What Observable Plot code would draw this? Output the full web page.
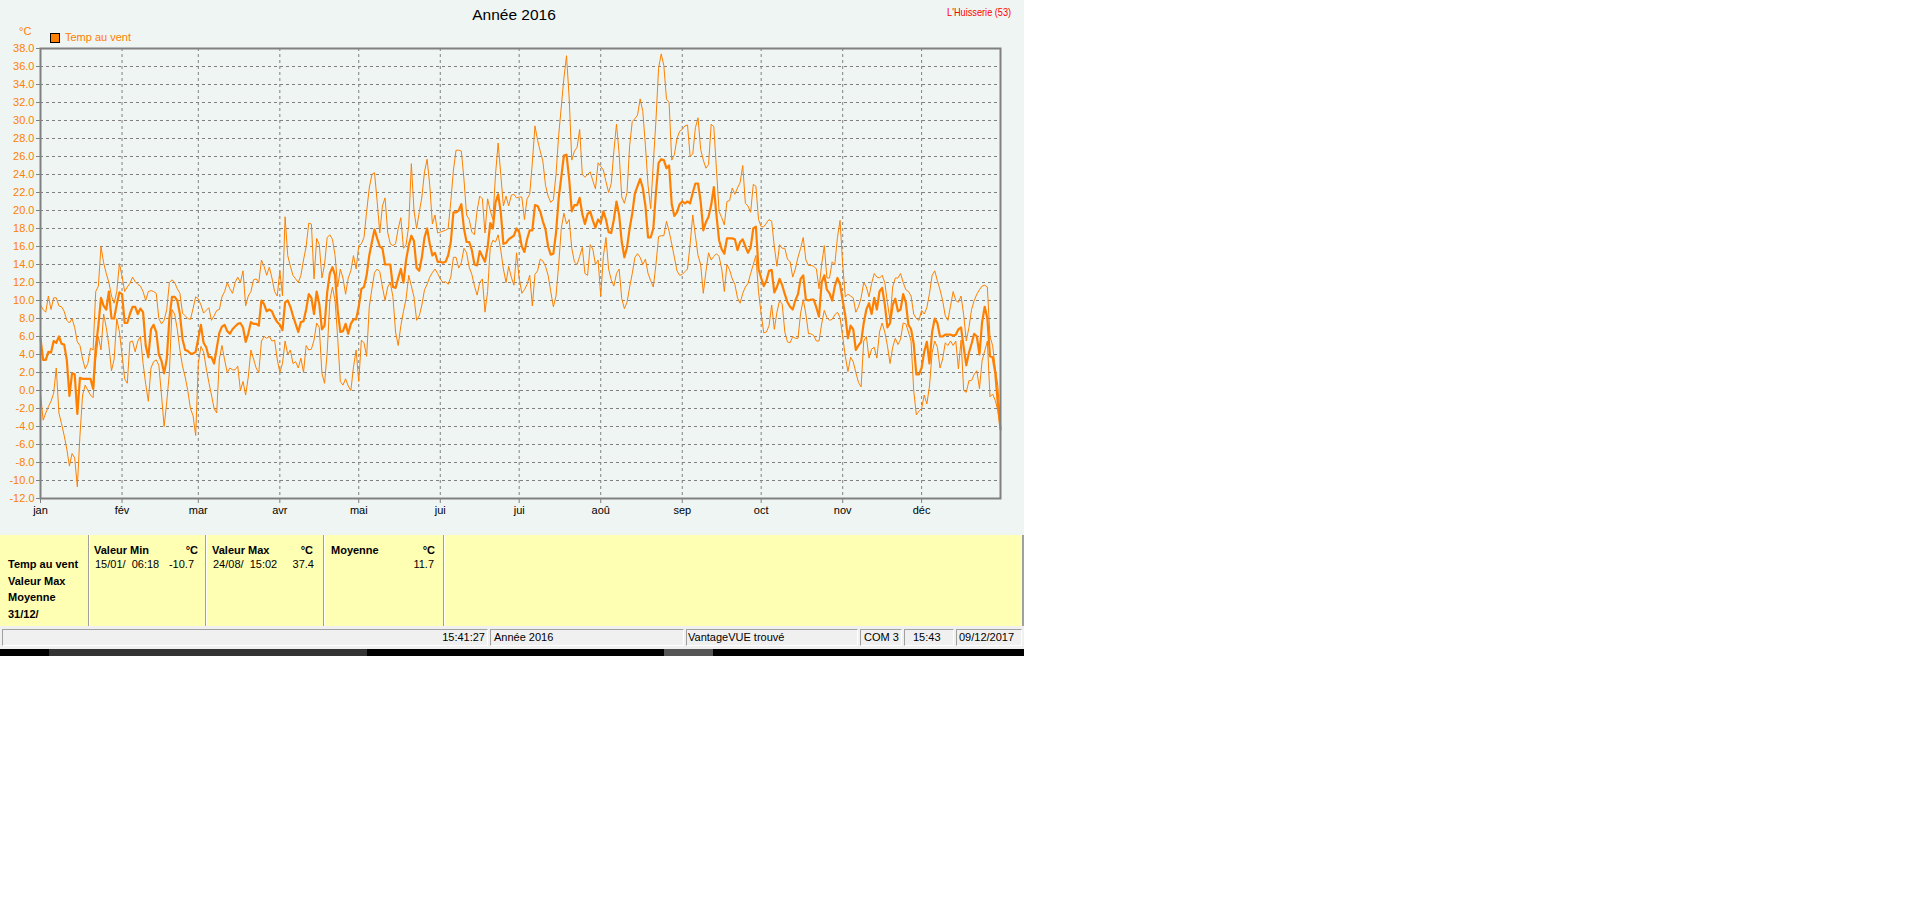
<!DOCTYPE html>
<html>
<head>
<meta charset="utf-8">
<script src="https://cdn.jsdelivr.net/npm/d3@7"></script>
<script src="https://cdn.jsdelivr.net/npm/@observablehq/plot@0.6"></script>
<style>
  html, body { margin: 0; padding: 0; background: #ffffff; }
  body { width: 1920px; height: 901px; position: relative; overflow: hidden; font-family: "Liberation Sans", Arial, sans-serif; }
  #app { position: absolute; left: 0; top: 0; width: 1024px; height: 656px; }
  #panel { position: absolute; left: 0; top: 0; width: 1024px; height: 535px; background: #EEF5F3; }
  #chart { position: absolute; left: 0; top: 0; }
  .t { position: absolute; white-space: nowrap; font-size: 11px; line-height: 13px; }
  .b { font-weight: bold; }
  #table { position: absolute; left: 0; top: 535px; width: 1022px; height: 91px; background: #FFFFB4; border-right: 2px solid #A0A0A0; }
  .vsep { position: absolute; top: 535px; width: 1px; height: 91px; background: #A0A0A0; border-right: 1px solid #ffffff; }
  #status { position: absolute; left: 0; top: 626px; width: 1024px; height: 23px; background: #F0F0F0; }
  .cell { position: absolute; top: 629px; height: 17px; border-top: 1px solid #A0A0A0; border-left: 1px solid #A0A0A0; border-bottom: 1px solid #ffffff; border-right: 1px solid #ffffff; box-sizing: border-box; }
  #strip { position: absolute; left: 0; top: 649px; width: 1024px; height: 7px; background: #000000; }
</style>
</head>
<body>
<div id="app">
  <div id="panel"></div>
  <div id="chart"></div>

  <div class="t" style="left:0;width:1028px;text-align:center;top:5px;font-size:15.5px;line-height:19px;color:#000;">Année 2016</div>
  <div class="t" style="right:13px;top:6px;color:#FF0000;font-size:11.5px;transform:scaleX(0.8);transform-origin:right center;">L'Huisserie (53)</div>
  <div class="t" style="left:19px;top:25px;color:#FF8000;">°C</div>
  <div style="position:absolute;left:50px;top:33px;width:8px;height:8px;background:#FF8000;border:1px solid #000;"></div>
  <div class="t" style="left:65px;top:31px;color:#FF8000;">Temp au vent</div>

  <div id="table"></div>
  <div class="vsep" style="left:88px;"></div>
  <div class="vsep" style="left:205px;"></div>
  <div class="vsep" style="left:323px;"></div>
  <div class="vsep" style="left:443px;"></div>

  <div class="t b" style="left:8px;top:558px;">Temp au vent</div>
  <div class="t b" style="left:8px;top:575px;">Valeur Max</div>
  <div class="t b" style="left:8px;top:591px;">Moyenne</div>
  <div class="t b" style="left:8px;top:608px;">31/12/</div>

  <div class="t b" style="left:94px;top:544px;">Valeur Min</div>
  <div class="t b" style="right:826px;top:544px;">°C</div>
  <div class="t" style="left:95px;top:558px;">15/01/&nbsp; 06:18</div>
  <div class="t" style="right:830px;top:558px;">-10.7</div>

  <div class="t b" style="left:212px;top:544px;">Valeur Max</div>
  <div class="t b" style="right:711px;top:544px;">°C</div>
  <div class="t" style="left:213px;top:558px;">24/08/&nbsp; 15:02</div>
  <div class="t" style="right:710px;top:558px;">37.4</div>

  <div class="t b" style="left:331px;top:544px;">Moyenne</div>
  <div class="t b" style="right:589px;top:544px;">°C</div>
  <div class="t" style="right:590px;top:558px;">11.7</div>

  <div id="status"></div>
  <div class="cell" style="left:2px;width:486px;"></div>
  <div class="cell" style="left:490px;width:194px;"></div>
  <div class="cell" style="left:686px;width:172px;"></div>
  <div class="cell" style="left:860px;width:42px;"></div>
  <div class="cell" style="left:904px;width:50px;"></div>
  <div class="cell" style="left:956px;width:66px;"></div>
  <div class="t" style="right:539px;top:631px;">15:41:27</div>
  <div class="t" style="left:494px;top:631px;">Année 2016</div>
  <div class="t" style="left:688px;top:631px;">VantageVUE trouvé</div>
  <div class="t" style="left:864px;top:631px;">COM 3</div>
  <div class="t" style="left:913px;top:631px;">15:43</div>
  <div class="t" style="left:959px;top:631px;">09/12/2017</div>

  <div id="strip"></div>
  <div style="position:absolute;left:49px;top:649px;width:318px;height:7px;background:#333333;"></div>
  <div style="position:absolute;left:664px;top:649px;width:49px;height:7px;background:#555555;"></div>
</div>

<script>
// ---- Data (daily values, day index 0 = 1 Jan 2016 ... 365 = 31 Dec 2016) ----
const monthStartDays = [0, 31, 60, 91, 121, 152, 182, 213, 244, 274, 305, 335];
const monthLabels = ["jan", "fév", "mar", "avr", "mai", "jui", "jui", "aoû", "sep", "oct", "nov", "déc"];
const yTicks = [-12, -10, -8, -6, -4, -2, 0, 2, 4, 6, 8, 10, 12, 14, 16, 18, 20, 22, 24, 26, 28, 30, 32, 34, 36, 38];

const tMean = [
  5.8, 3.4, 3.4, 4.3, 4.2, 5.5, 5.3, 6.0, 5.2, 5.1,
  3.4, -0.6, 1.9, 1.8, -2.6, 1.4, 1.3, 1.3, 1.3, 1.3,
  0.2, 4.8, 7.2, 10.3, 9.4, 9.0, 11.0, 8.0, 8.0, 9.6,
  10.9, 10.7, 7.5, 7.5, 8.5, 9.3, 9.3, 8.5, 9.1, 8.7,
  5.0, 3.7, 6.8, 7.3, 6.5, 4.0, 3.3, 1.9, 3.5, 8.0,
  10.4, 10.4, 10.0, 8.5, 5.7, 4.5, 4.4, 4.1, 4.1, 4.3,
  5.8, 7.3, 5.3, 4.8, 3.7, 3.7, 3.0, 4.7, 6.4, 7.1,
  7.3, 6.6, 6.3, 6.8, 7.1, 7.4, 7.5, 7.0, 5.4, 6.3,
  7.6, 7.4, 7.4, 7.2, 10.0, 9.6, 8.8, 9.0, 8.8, 8.1,
  7.6, 7.3, 6.7, 9.8, 10.0, 9.3, 8.3, 7.4, 6.5, 7.6,
  7.7, 9.0, 10.7, 10.3, 8.5, 11.0, 9.6, 6.8, 7.2, 10.9,
  13.0, 13.7, 12.8, 8.9, 6.5, 6.6, 7.4, 6.3, 7.4, 7.9,
  7.9, 9.3, 11.3, 11.5, 12.8, 15.0, 16.5, 17.9, 16.9, 16.0,
  15.8, 14.0, 14.0, 14.0, 11.5, 11.4, 12.5, 13.5, 12.0, 14.5,
  16.1, 17.2, 16.6, 13.6, 13.3, 14.8, 17.0, 18.0, 16.3, 15.0,
  15.3, 14.3, 14.3, 14.2, 14.3, 15.0, 16.5, 19.8, 19.8, 20.0,
  20.7, 18.0, 16.5, 16.5, 15.6, 14.0, 13.9, 15.5, 14.9, 14.3,
  15.9, 18.6, 18.0, 20.9, 21.8, 19.8, 16.3, 16.4, 16.8, 17.0,
  17.2, 18.0, 17.6, 16.0, 15.4, 16.8, 17.8, 17.8, 20.6, 20.5,
  19.9, 18.8, 17.9, 16.0, 15.1, 15.2, 17.5, 21.3, 23.7, 26.1,
  26.2, 23.5, 19.9, 20.6, 20.6, 21.4, 19.6, 18.5, 19.6, 19.9,
  18.9, 18.1, 19.0, 18.6, 19.9, 19.0, 17.6, 17.5, 19.0, 21.0,
  19.5, 16.5, 14.8, 15.9, 18.0, 19.7, 21.9, 22.7, 23.5, 22.5,
  20.5, 17.0, 17.0, 18.0, 22.0, 25.3, 25.7, 25.6, 24.7, 25.0,
  20.7, 19.4, 19.8, 20.7, 21.0, 20.8, 21.0, 20.8, 22.0, 23.0,
  23.0, 21.0, 17.8, 18.7, 19.3, 20.6, 22.6, 19.5, 16.7, 15.7,
  15.2, 16.9, 16.9, 16.9, 16.8, 15.6, 16.5, 16.8, 16.0, 15.3,
  15.9, 18.0, 18.2, 13.5, 12.5, 11.6, 12.2, 13.3, 13.4, 10.9,
  11.5, 12.4, 11.7, 10.7, 9.8, 9.3, 9.0, 10.0, 10.7, 12.4,
  12.8, 10.1, 10.0, 10.1, 10.1, 9.2, 8.2, 12.0, 12.8, 11.2,
  10.8, 10.0, 11.6, 12.5, 11.8, 10.0, 8.3, 5.8, 7.2, 6.8,
  4.5, 5.0, 5.4, 7.5, 9.0, 9.7, 8.5, 10.3, 9.0, 11.0,
  11.4, 9.6, 7.0, 7.5, 9.5, 10.2, 8.8, 9.0, 10.7, 9.8,
  7.3, 6.8, 5.2, 1.8, 1.8, 2.5, 4.3, 5.4, 3.0, 6.5,
  8.0, 7.5, 6.0, 6.0, 6.2, 6.2, 6.2, 6.1, 6.2, 6.8,
  7.0, 4.8, 2.8, 4.2, 5.2, 6.3, 6.0, 4.0, 7.6, 9.3,
  8.0, 3.8, 3.7, 2.0, -1.5, -4.3
];

const tMax = [
  9.5, 9.0, 8.7, 10.5, 9.0, 10.3, 10.3, 9.4, 9.3, 8.8,
  7.8, 7.5, 8.0, 7.0, 5.4, 5.0, 3.5, 2.4, 3.0, 4.7,
  4.5, 11.0, 11.6, 16.0, 14.2, 13.0, 12.0, 10.5, 9.7, 11.0,
  14.1, 12.7, 11.0, 11.5, 11.9, 12.6, 12.1, 11.8, 11.6, 11.0,
  10.0, 11.0, 11.1, 11.0, 10.8, 8.0, 7.4, 7.8, 9.0, 12.0,
  12.3, 12.0, 11.3, 10.8, 8.6, 8.3, 8.0, 7.9, 9.1, 10.4,
  10.2, 9.5, 8.6, 8.9, 9.2, 7.8, 8.3, 8.9, 9.0, 10.4,
  11.0, 12.0, 11.3, 10.8, 12.0, 12.6, 12.0, 13.3, 9.4, 10.5,
  11.0, 12.3, 12.4, 12.0, 14.5, 13.8, 12.8, 13.7, 12.5, 11.0,
  10.5, 13.3, 10.5, 19.3, 15.0, 13.8, 12.8, 12.4, 12.0, 12.8,
  14.5, 16.0, 18.6, 18.5, 12.4, 16.9, 16.2, 12.5, 14.0, 17.0,
  17.3, 16.8, 15.0, 11.5, 13.5, 12.5, 10.7, 12.5, 13.3, 15.0,
  13.5, 16.1, 16.3, 17.0, 19.9, 22.5, 24.0, 24.2, 21.0, 17.5,
  20.5, 21.4, 17.6, 16.3, 16.1, 16.3, 18.0, 19.2, 15.8, 16.2,
  18.3, 25.2, 20.0, 18.0, 19.8, 21.5, 24.3, 25.7, 22.8, 18.5,
  19.5, 17.5, 17.6, 17.7, 17.8, 18.0, 21.0, 24.5, 26.7, 26.7,
  26.6, 23.5, 19.5, 19.0, 17.6, 17.3, 20.0, 21.6, 21.3, 17.5,
  21.3, 20.0, 19.0, 24.0, 27.5, 24.0, 20.5, 21.6, 20.5, 21.7,
  21.8, 21.4, 21.5, 21.5, 19.0, 21.3, 21.8, 25.3, 29.4, 27.8,
  26.6, 25.5, 22.8, 21.6, 20.9, 21.2, 24.0, 28.3, 31.5, 34.7,
  37.2, 32.5, 25.6, 26.6, 27.0, 29.0, 24.0, 23.7, 24.0, 24.3,
  23.3, 22.4, 25.3, 24.9, 24.5, 23.2, 22.0, 23.0, 26.6, 29.6,
  26.3, 21.5, 20.8, 22.0, 27.2, 29.9, 30.2, 30.6, 32.4, 31.0,
  27.2, 22.8, 20.2, 25.3, 30.0, 35.8, 37.4, 36.1, 32.4, 32.0,
  25.6, 26.2, 28.0, 28.8, 29.0, 29.4, 29.5, 26.0, 26.3, 29.2,
  30.3, 26.8, 25.6, 24.7, 25.1, 29.6, 29.3, 24.6, 19.9, 19.2,
  18.4, 21.0, 21.1, 22.5, 21.8, 22.5, 23.1, 25.0, 20.8, 20.5,
  19.8, 22.9, 22.7, 19.0, 18.2, 18.2, 18.6, 19.0, 18.8, 16.0,
  13.8, 16.2, 15.8, 15.8, 14.6, 14.3, 12.6, 13.5, 14.8, 15.8,
  17.0, 14.5, 13.9, 13.9, 13.8, 13.5, 11.3, 14.0, 16.1, 12.5,
  12.5, 14.3, 14.0, 17.0, 18.9, 14.0, 10.4, 10.7, 10.5, 10.3,
  8.7, 9.3, 10.3, 12.0, 11.5, 10.4, 11.9, 13.0, 12.6, 12.5,
  12.8, 12.0, 9.8, 7.8, 11.5, 12.5, 12.5, 13.0, 12.0, 11.2,
  11.0, 10.5, 8.5, 8.0, 7.8, 8.9, 8.5, 9.2, 10.8, 12.8,
  13.3, 12.2, 11.2, 10.0, 8.3, 7.8, 9.4, 11.0, 10.0, 9.8,
  10.5, 8.4, 5.5, 7.0, 9.0, 10.0, 10.7, 11.2, 11.6, 11.7,
  11.5, 6.0, 5.0, 2.5, 0.5, -4.0
];

const tMin = [
  -0.3, -3.3, -2.5, -1.8, -1.2, -0.3, 2.5, -2.5, -3.7, -5.0,
  -6.5, -8.4, -7.0, -7.5, -10.7, -5.0, -0.5, 0.6, 0.0, -0.5,
  -0.8, 3.5, 6.0, 4.5, 8.5, 7.0, 5.0, 2.2, 3.5, 8.0,
  6.5, 4.0, 1.3, 0.8, 5.4, 5.5, 4.3, 5.5, 6.0, 3.0,
  0.7, -1.2, 2.5, 3.2, 3.4, 2.8, -0.5, -4.0, -1.3, 2.0,
  9.0, 8.5, 6.8, 4.5, 2.7, 1.5, 0.0, -2.0, -2.8, -5.0,
  3.0, 4.9, 4.3, 2.5, 0.9, -0.5, -2.0, -2.5, 3.5, 5.0,
  3.4, 2.0, 2.5, 2.3, 2.3, 2.7, 0.0, 1.0, -0.5, 1.5,
  4.5, 3.5, 2.5, 2.0, 5.5, 6.0, 5.8, 6.0, 5.5, 5.6,
  3.5, 2.0, 3.0, 5.5, 4.0, 4.5, 3.0, 3.2, 2.5, 3.6,
  2.0, 5.0, 4.5, 4.6, 5.6, 7.5, 7.0, 1.9, 0.8, 4.2,
  10.0, 11.5, 10.0, 5.8, 1.0, 0.6, 1.3, 0.5, 0.0, 2.6,
  4.5, 1.0, 5.6, 5.3, 3.8, 9.3, 11.3, 13.1, 13.5, 13.2,
  11.5, 10.0, 11.5, 12.0, 10.4, 6.5, 5.0, 7.2, 8.8, 10.2,
  12.8, 11.6, 10.4, 7.8, 8.3, 9.5, 11.2, 11.8, 12.6, 13.1,
  13.5, 13.0, 12.4, 12.0, 12.1, 11.8, 12.6, 14.8, 14.8, 13.6,
  14.2, 15.8, 15.3, 13.7, 12.9, 11.6, 10.6, 12.0, 12.4, 8.7,
  11.0, 15.9, 16.7, 16.5, 17.3, 15.6, 13.5, 12.0, 13.8, 12.6,
  11.7, 15.3, 12.5, 10.8, 11.2, 11.8, 12.8, 9.4, 12.9, 13.3,
  14.6, 14.4, 13.8, 12.8, 11.0, 9.3, 10.5, 13.9, 18.0, 19.7,
  18.5, 19.0, 15.8, 14.3, 14.0, 14.9, 15.9, 13.0, 12.8, 16.2,
  15.7, 14.0, 14.5, 10.5, 14.9, 17.0, 13.5, 12.3, 11.6, 13.0,
  13.5, 10.2, 9.1, 9.8, 11.5, 13.0, 14.8, 15.2, 14.8, 14.0,
  14.6, 13.0, 12.2, 11.5, 14.0, 17.1, 17.2, 17.2, 18.8, 17.7,
  16.3, 14.8, 13.3, 12.8, 12.9, 13.2, 13.5, 16.3, 19.5, 17.2,
  15.0, 14.0, 10.8, 13.2, 15.3, 14.5, 14.9, 15.2, 14.9, 13.5,
  11.0, 14.0, 13.4, 12.4, 11.8, 10.3, 9.7, 10.8, 11.5, 11.9,
  13.0, 14.0, 15.0, 11.0, 8.5, 6.4, 6.5, 7.2, 9.5, 6.8,
  8.7, 10.0, 9.6, 6.5, 5.4, 5.3, 6.0, 5.8, 5.8, 8.6,
  10.1, 8.5, 6.3, 6.3, 6.1, 5.5, 5.5, 7.4, 8.9, 8.1,
  7.8, 7.9, 8.4, 8.7, 8.1, 6.0, 3.8, 2.1, 3.7, 3.2,
  2.0, 0.9, 0.4, 5.5, 6.0, 3.6, 4.6, 4.8, 3.6, 6.5,
  7.5, 6.5, 5.0, 3.0, 4.8, 5.8, 5.1, 5.7, 7.5, 7.4,
  6.5, 5.5, 0.0, -2.7, -2.3, -2.0, -0.5, -1.5, 0.5, 4.2,
  5.5, 4.8, 2.5, 3.5, 5.3, 5.0, 5.5, 5.0, 5.5, 2.4,
  5.6, 0.0, -0.2, 1.1, 1.1, 1.8, 2.2, 0.2, 3.3, 4.4,
  5.5, -0.7, -0.4, -1.1, -2.2, -4.5
];

// ---- Build table for Plot ----
const rows = tMean.map((v, i) => ({day: i, mean: v, max: tMax[i], min: tMin[i]}));

const orange = "#FF8000";
const gridColor = "#808080";

const chart = Plot.plot({
  width: 1024,
  height: 520,
  marginLeft: 40,
  marginRight: 24,
  marginTop: 48,
  marginBottom: 22,
  style: {background: "transparent", fontFamily: "'Liberation Sans', Arial, sans-serif", fontSize: "11px", color: "#000"},
  x: {domain: [0, 365], label: null},
  y: {domain: [-12, 38], label: null},
  marks: [
    Plot.gridY(yTicks.filter(d => d > -12 && d < 38), {stroke: gridColor, strokeOpacity: 1, strokeDasharray: "3,3"}),
    Plot.gridX(monthStartDays.filter(d => d > 0), {stroke: gridColor, strokeOpacity: 1, strokeDasharray: "3,3"}),
    Plot.line(rows, {x: "day", y: "max", stroke: orange, strokeWidth: 1}),
    Plot.line(rows, {x: "day", y: "min", stroke: orange, strokeWidth: 1}),
    Plot.line(rows, {x: "day", y: "mean", stroke: orange, strokeWidth: 2.2}),
    Plot.frame({stroke: gridColor, strokeWidth: 2}),
    Plot.axisY({ticks: yTicks, tickFormat: d => d.toFixed(1), tickSize: 4, tickPadding: 2, fill: orange, stroke: gridColor, label: null}),
    Plot.axisX({ticks: monthStartDays, tickFormat: d => monthLabels[monthStartDays.indexOf(d)], tickSize: 5, tickPadding: 3, fill: "#000", stroke: gridColor, label: null})
  ]
});
document.getElementById("chart").appendChild(chart);
</script>
</body>
</html>
